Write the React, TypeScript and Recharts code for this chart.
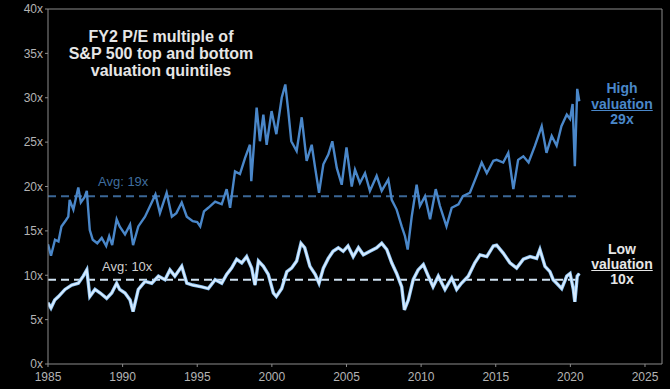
import { LineChart, Line, XAxis, YAxis, ReferenceLine } from 'recharts';

// High valuation quintile (top), FY2 P/E
const highYears = [
  1985.0, 1985.2, 1985.47, 1985.7, 1985.9, 1986.2, 1986.36, 1986.45, 1986.7, 1987.03,
  1987.2, 1987.45, 1987.6, 1987.8, 1988.0, 1988.3, 1988.6, 1988.9, 1989.1, 1989.3,
  1989.6, 1989.8, 1990.16, 1990.5, 1990.7, 1991.05, 1991.5, 1991.95, 1992.2, 1992.5,
  1992.95, 1993.3, 1993.6, 1993.96, 1994.3, 1994.7, 1995.0, 1995.2, 1995.45, 1995.74,
  1996.2, 1996.64, 1996.97, 1997.2, 1997.53, 1997.86, 1998.2, 1998.53, 1998.62, 1998.98,
  1999.2, 1999.43, 1999.65, 1999.98, 2000.3, 2000.66, 2000.9, 2001.1, 2001.3, 2001.66,
  2002.0, 2002.33, 2002.67, 2002.9, 2003.16, 2003.45, 2003.78, 2004.05, 2004.35, 2004.68,
  2005.0, 2005.35, 2005.57, 2005.9, 2006.24, 2006.57, 2007.02, 2007.36, 2007.8, 2008.03,
  2008.36, 2008.7, 2008.92, 2009.1, 2009.37, 2009.7, 2009.92, 2010.26, 2010.6, 2010.98,
  2011.26, 2011.7, 2012.05, 2012.5, 2012.8, 2013.27, 2013.72, 2014.06, 2014.4, 2014.84,
  2015.06, 2015.5, 2015.84, 2016.18, 2016.5, 2016.85, 2017.2, 2017.63, 2018.08, 2018.4,
  2018.75, 2019.08, 2019.4, 2019.76, 2019.98, 2020.15, 2020.3, 2020.46, 2020.6,
];
const highValues = [
  13.5, 12.2, 14, 13.8, 15.5, 16.2, 16.6, 18.5, 17.4, 19.9,
  18.2, 18.8, 19.5, 15.1, 14, 13.6, 14.2, 13.3, 14.4, 13.4,
  16.3, 15.5, 14.6, 15.7, 13.4, 15.5, 16.6, 18.2, 19.1, 17,
  19.3, 16.6, 17, 18.2, 16.6, 16.1, 16, 15.5, 17.2, 17.6,
  18.3, 18, 19.7, 17.6, 21.7, 21.4, 23.2, 24.7, 20.6, 28.9,
  25.1, 28.1, 24.7, 28.5, 25.9, 30, 31.5, 28.5, 25.1, 24,
  27.8, 22.9, 24.7, 22.1, 19.3, 22.5, 23.6, 25.1, 22.1, 20.2,
  24.4, 20, 21.9, 20.4, 21.5, 19.5, 21.2, 19.5, 20.8, 18.5,
  17.4, 15.5, 14.4, 12.9, 16.6, 20.2, 17.8, 18.9, 16.3, 19.7,
  17.8, 15.5, 17.6, 18, 18.9, 19.3, 21.2, 22.7, 21.5, 22.9,
  23, 22.7, 23.8, 19.7, 23, 23.4, 22.7, 24.6, 26.8, 23.8,
  25.7, 24.6, 26.8, 28.1, 27.6, 29.3, 22.3, 31, 29.6,
];

// Low valuation quintile (bottom), FY2 P/E
const lowYears = [
  1985.0, 1985.2, 1985.45, 1985.7, 1986.14, 1986.59, 1987.03, 1987.36, 1987.6, 1987.8,
  1988.15, 1988.5, 1988.93, 1989.27, 1989.6, 1989.8, 1990.16, 1990.5, 1990.7, 1991.05,
  1991.5, 1991.95, 1992.4, 1992.84, 1993.17, 1993.5, 1993.96, 1994.3, 1994.7, 1995.3,
  1995.74, 1996.2, 1996.64, 1996.97, 1997.3, 1997.64, 1997.98, 1998.31, 1998.65, 1998.87,
  1999.1, 1999.43, 1999.76, 2000.1, 2000.3, 2000.66, 2001.0, 2001.32, 2001.66, 2001.95,
  2002.2, 2002.55, 2002.9, 2003.16, 2003.45, 2003.78, 2004.1, 2004.45, 2004.78, 2005.1,
  2005.45, 2005.8, 2006.13, 2006.57, 2007.02, 2007.36, 2007.7, 2008.03, 2008.36, 2008.7,
  2008.88, 2009.14, 2009.47, 2009.8, 2010.15, 2010.48, 2010.8, 2011.15, 2011.6, 2012.05,
  2012.38, 2012.7, 2013.16, 2013.6, 2013.95, 2014.4, 2014.84, 2015.06, 2015.5, 2015.95,
  2016.4, 2016.85, 2017.3, 2017.74, 2017.96, 2018.3, 2018.63, 2018.85, 2019.08, 2019.42,
  2019.76, 2019.98, 2020.2, 2020.3, 2020.46, 2020.6,
];
const lowValues = [
  6.9, 6.3, 7.2, 7.6, 8.4, 8.9, 9.1, 9.9, 10.6, 7.6,
  8.4, 8.0, 7.4, 8.0, 9.1, 8.4, 8.0, 7.2, 5.9, 8.4,
  9.3, 9.1, 9.9, 9.5, 10.6, 9.9, 11.0, 9.1, 8.9, 8.7,
  8.5, 9.5, 9.1, 10.1, 10.8, 11.8, 11.4, 12.1, 10.8, 8.9,
  11.6, 11.0, 10.1, 8.0, 7.6, 8.5, 10.4, 10.8, 11.6, 13.6,
  13.1, 11.0, 10.1, 9.1, 10.8, 11.9, 12.7, 13.1, 12.7, 13.3,
  12.1, 13.1, 12.3, 12.7, 13.1, 13.6, 12.9, 11.4, 10.2, 8.7,
  6.1, 7.2, 9.5, 10.6, 11.2, 9.9, 8.7, 9.9, 8.4, 9.7,
  8.4, 9.1, 9.9, 11.4, 12.3, 12.1, 13.3, 13.4, 12.5, 11.4,
  10.8, 11.8, 12.1, 11.9, 12.9, 11.0, 10.4, 9.5, 9.1, 8.5,
  9.9, 10.2, 8.4, 7.0, 9.9, 10.2,
];

// averages, drawn 1985 to mid-2020
const avgYears = [1985, 2020.55];
const highAvg = 18.9;
const lowAvg = 9.5;

const xTicks = [1985, 1990, 1995, 2000, 2005, 2010, 2015, 2020, 2025];
const yTicks = [0, 5, 10, 15, 20, 25, 30, 35, 40];
const X_MAX = 2026.14;

const highData = highYears.map((year, i) => ({ year, pe: highValues[i] }));
const lowData = lowYears.map((year, i) => ({ year, pe: lowValues[i] }));
const highAvgData = avgYears.map(year => ({ year, pe: highAvg }));
const lowAvgData = avgYears.map(year => ({ year, pe: lowAvg }));

const FONT = '"Liberation Sans", Arial, sans-serif';
const AXIS = '#8c8c8c';
const HIGH = '#4a87c9';
const LOW = '#d8ecff';

const overlay = (style: React.CSSProperties): React.CSSProperties => ({
  position: 'absolute',
  fontFamily: FONT,
  whiteSpace: 'nowrap',
  ...style,
});

export default function App() {
  return (
    <div style={{ position: 'absolute', left: 0, top: 0, width: 670, height: 389, background: '#000', overflow: 'hidden' }}>
      <LineChart width={670} height={389} margin={{ top: 9, right: 8, left: 8, bottom: 5 }}>
        <XAxis
          dataKey="year"
          type="number"
          domain={[1985, X_MAX]}
          ticks={xTicks}
          allowDataOverflow
          height={20}
          stroke={AXIS}
          tickSize={3}
          tick={{ fill: '#b4b4b4', fontSize: 12, fontFamily: FONT, dy: 3 }}
        />
        <YAxis
          type="number"
          domain={[0, 40]}
          ticks={yTicks}
          width={40}
          stroke={AXIS}
          tickSize={3}
          tickFormatter={(v: number) => `${v}x`}
          tick={{ fill: '#b4b4b4', fontSize: 12, fontFamily: FONT }}
        />
        <ReferenceLine y={40} stroke={AXIS} />
        <ReferenceLine x={X_MAX} stroke={AXIS} />
        <Line data={highAvgData} dataKey="pe" stroke="#3b6797" strokeWidth={2} strokeDasharray="8 5" dot={false} isAnimationActive={false} />
        <Line data={lowAvgData} dataKey="pe" stroke="#d0e2f2" strokeWidth={2} strokeDasharray="8 5" dot={false} isAnimationActive={false} />
        <Line data={highData} dataKey="pe" type="linear" stroke={HIGH} strokeWidth={2.4} dot={false} isAnimationActive={false} />
        <Line data={lowData} dataKey="pe" type="linear" stroke="#8fc3f0" strokeWidth={3.4} dot={false} isAnimationActive={false} />
        <Line data={lowData} dataKey="pe" type="linear" stroke={LOW} strokeWidth={1.8} dot={false} isAnimationActive={false} />
      </LineChart>

      <div style={overlay({ left: 61, top: 28, width: 200, textAlign: 'center', color: '#e6e6e6', fontSize: 16, fontWeight: 700, lineHeight: '17px' })}>
        FY2 P/E multiple of<br />S&amp;P 500 top and bottom<br />valuation quintiles
      </div>

      <div style={overlay({ left: 98, top: 174, color: '#3f6e9f', fontSize: 13 })}>Avg: 19x</div>
      <div style={overlay({ left: 102, top: 259, color: '#cfcfcf', fontSize: 13 })}>Avg: 10x</div>

      <div style={overlay({ left: 582, top: 81, width: 80, textAlign: 'center', color: HIGH, fontSize: 14, fontWeight: 700, lineHeight: '15.5px' })}>
        High<br /><span style={{ textDecoration: 'underline' }}>valuation</span><br />29x
      </div>
      <div style={overlay({ left: 582, top: 242, width: 80, textAlign: 'center', color: '#e6e6e6', fontSize: 14, fontWeight: 700, lineHeight: '15px' })}>
        Low<br /><span style={{ textDecoration: 'underline' }}>valuation</span><br />10x
      </div>
    </div>
  );
}
